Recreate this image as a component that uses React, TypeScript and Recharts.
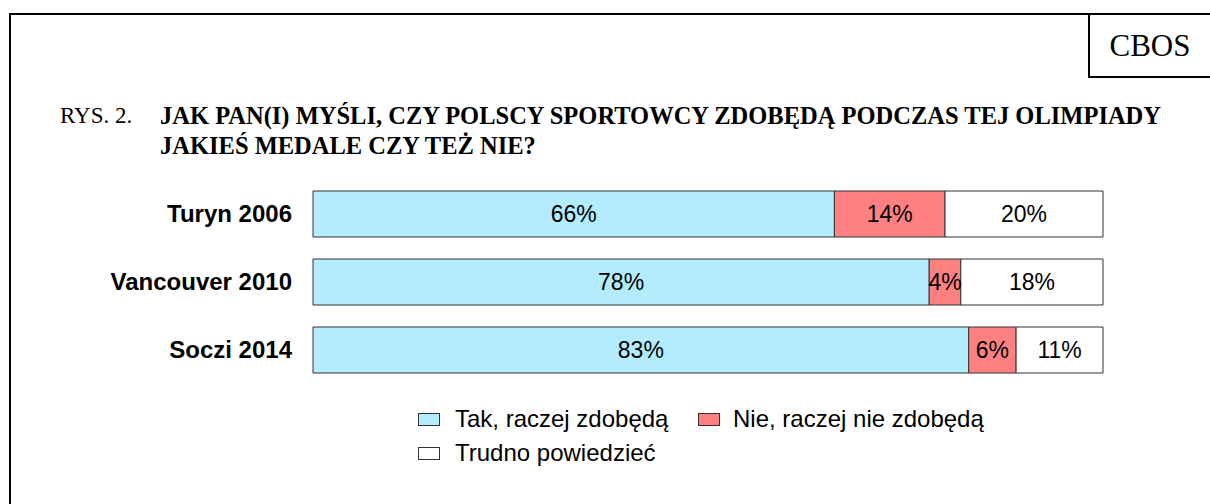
import React from "react";
import { BarChart, Bar, XAxis, YAxis, LabelList } from "recharts";

const categories = ["Turyn 2006", "Vancouver 2010", "Soczi 2014"];
const tak = [66, 78, 83];
const nie = [14, 4, 6];
const trudno = [20, 18, 11];

const seriesNames = ["Tak, raczej zdobędą", "Nie, raczej nie zdobędą", "Trudno powiedzieć"];
const seriesColors = ["#B3ECFF", "#FF8080", "#FFFFFF"];

const data = categories.map((name, i) => ({
  name,
  tak: tak[i],
  nie: nie[i],
  trudno: trudno[i],
}));

const sans = "'Liberation Sans', Arial, sans-serif";
const serif = "'Liberation Serif', 'Times New Roman', serif";

const CategoryTick = (props: any) => {
  const { x, y, payload } = props;
  return (
    <text x={x} y={y} dy={8} textAnchor="end" fontFamily={sans} fontWeight="bold" fontSize={24} fill="#000">
      {payload.value}
    </text>
  );
};

const fmt = (v: any) => `${v}%`;

function LegendItem({ x, y, gap, color, label }: { x: number; y: number; gap: number; color: string; label: string }) {
  return (
    <div style={{ position: "absolute", left: x, top: y, display: "flex", alignItems: "center", height: 24 }}>
      <div style={{ width: 20, height: 11, background: color, border: "1px solid #333" }} />
      <span style={{ marginLeft: gap, fontFamily: sans, fontSize: 24, color: "#000", whiteSpace: "nowrap" }}>{label}</span>
    </div>
  );
}

export default function App() {
  return (
    <div style={{ position: "absolute", left: 0, top: 0, width: 1210, height: 504, background: "#fff", overflow: "hidden" }}>
      {/* frame */}
      <div style={{ position: "absolute", left: 9, top: 13, width: 1201, height: 2, background: "#000" }} />
      <div style={{ position: "absolute", left: 9, top: 13, width: 2, height: 491, background: "#000" }} />
      {/* CBOS box */}
      <div style={{ position: "absolute", left: 1088, top: 13, width: 2, height: 65, background: "#000" }} />
      <div style={{ position: "absolute", left: 1088, top: 76, width: 122, height: 2, background: "#000" }} />
      <div style={{ position: "absolute", left: 1090, top: 15, width: 120, height: 61, display: "flex", alignItems: "center", justifyContent: "center", fontFamily: serif, fontSize: 31, color: "#000" }}>
        CBOS
      </div>
      {/* title */}
      <div style={{ position: "absolute", left: 60, top: 101, fontFamily: serif, fontSize: 23, lineHeight: "30px", color: "#000" }}>RYS. 2.</div>
      <div style={{ position: "absolute", left: 160, top: 101, fontFamily: serif, fontSize: 24.5, fontWeight: "bold", lineHeight: "30px", color: "#000", whiteSpace: "nowrap" }}>
        JAK PAN(I) MYŚLI, CZY POLSCY SPORTOWCY ZDOBĘDĄ PODCZAS TEJ OLIMPIADY
        <br />
        JAKIEŚ MEDALE CZY TEŻ NIE?
      </div>

      <div style={{ position: "absolute", left: 0, top: 0 }}>
        <BarChart
          width={1210}
          height={504}
          data={data}
          layout="vertical"
          margin={{ top: 180, right: 107, bottom: 120, left: 0 }}
          barCategoryGap={11}
        >
          <XAxis type="number" domain={[0, 100]} hide />
          <YAxis
            type="category"
            dataKey="name"
            width={313}
            axisLine={false}
            tickLine={false}
            tickSize={0}
            tickMargin={21}
            tick={<CategoryTick />}
          />
          <Bar dataKey="tak" stackId="a" fill={seriesColors[0]} stroke="#333" strokeWidth={1} isAnimationActive={false}>
            <LabelList dataKey="tak" position="center" formatter={fmt} fill="#000" fontFamily={sans} fontSize={23} />
          </Bar>
          <Bar dataKey="nie" stackId="a" fill={seriesColors[1]} stroke="#333" strokeWidth={1} isAnimationActive={false}>
            <LabelList dataKey="nie" position="center" formatter={fmt} fill="#000" fontFamily={sans} fontSize={23} />
          </Bar>
          <Bar dataKey="trudno" stackId="a" fill={seriesColors[2]} stroke="#333" strokeWidth={1} isAnimationActive={false}>
            <LabelList dataKey="trudno" position="center" formatter={fmt} fill="#000" fontFamily={sans} fontSize={23} />
          </Bar>
        </BarChart>
      </div>

      {/* legend */}
      <LegendItem x={418} y={407} gap={15} color={seriesColors[0]} label={seriesNames[0]} />
      <LegendItem x={698} y={407} gap={13} color={seriesColors[1]} label={seriesNames[1]} />
      <LegendItem x={418} y={441} gap={15} color={seriesColors[2]} label={seriesNames[2]} />
    </div>
  );
}
